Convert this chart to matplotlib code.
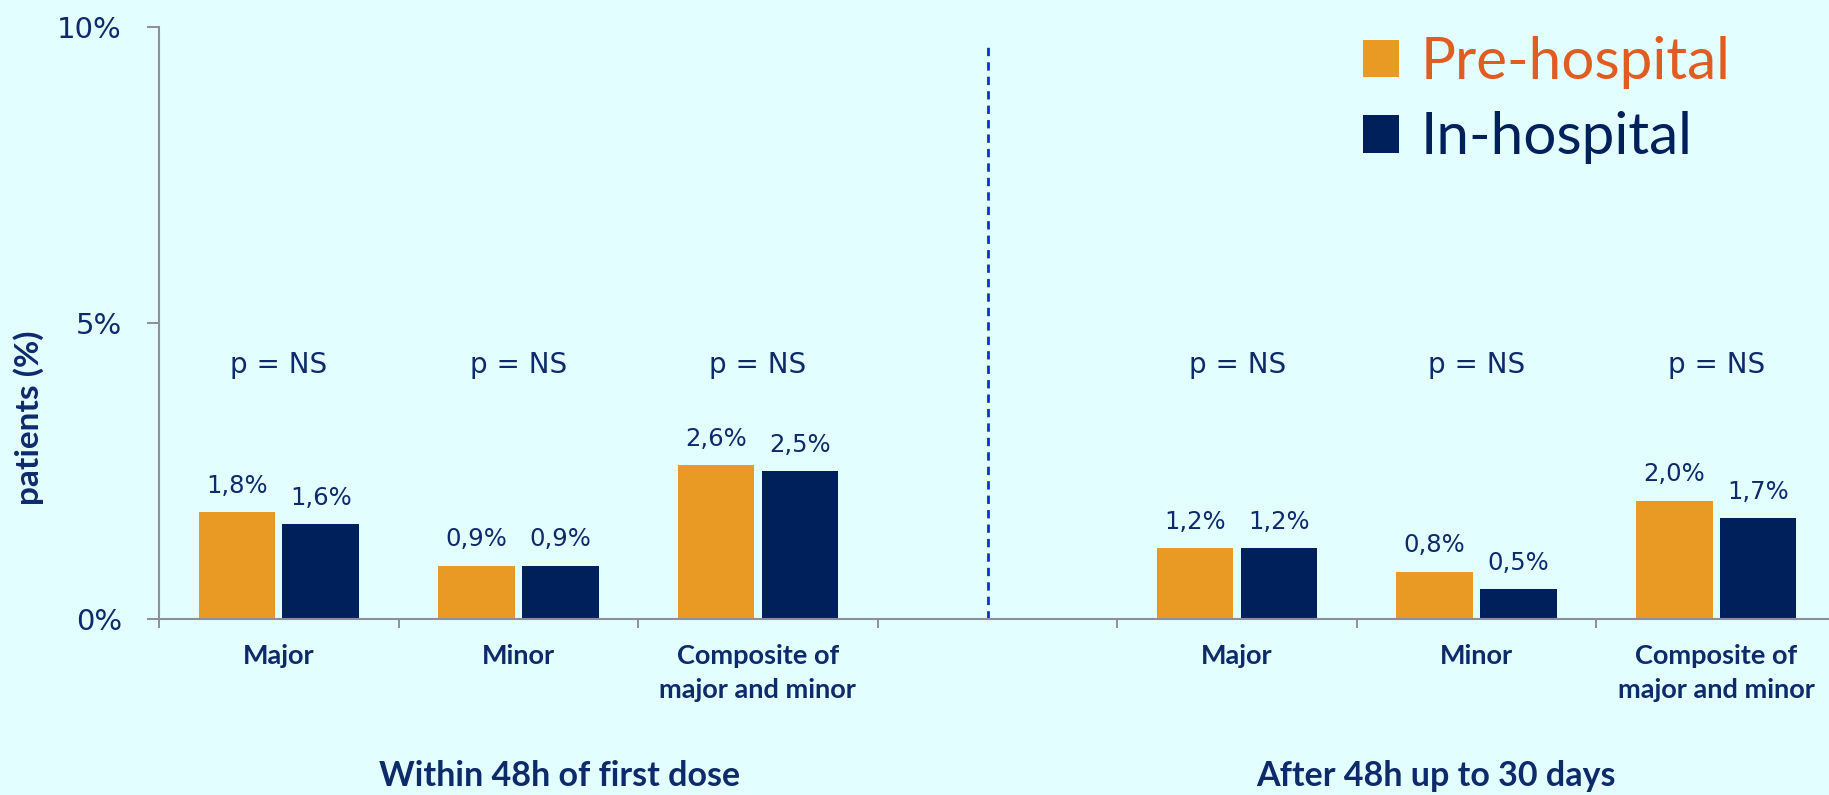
import numpy as np
import matplotlib
matplotlib.use("Agg")
import matplotlib.pyplot as plt

# ── Data ──
categories = ["Major", "Minor", "Composite of\nmajor and minor", "",
              "Major", "Minor", "Composite of\nmajor and minor"]
pre_hospital = [1.8, 0.9, 2.6, np.nan, 1.2, 0.8, 2.0]
in_hospital = [1.6, 0.9, 2.5, np.nan, 1.2, 0.5, 1.7]
pre_labels = ["1,8%", "0,9%", "2,6%", "", "1,2%", "0,8%", "2,0%"]
in_labels = ["1,6%", "0,9%", "2,5%", "", "1,2%", "0,5%", "1,7%"]
p_labels = ["p = NS", "p = NS", "p = NS", "", "p = NS", "p = NS", "p = NS"]
groups = ["Within 48h of first dose", "After 48h up to 30 days"]
group_x = [1.17, 4.83]
yticks = [0, 5, 10]
ytick_labels = ["0%", "5%", "10%"]
series_names = ["Pre-hospital", "In-hospital"]

BG = "#E3FEFF"
ORANGE = "#E89A25"
NAVY = "#00205B"
TXT = "#0D2A6B"
AXC = "#8E8E9E"

fig = plt.figure(figsize=(18.29, 7.95), dpi=100, facecolor=BG)
ax = fig.add_axes([159 / 1829, 1 - 619 / 795, 1677 / 1829, (619 - 27) / 795])
ax.set_facecolor(BG)

x = np.arange(len(categories))
w = 0.32
off = 0.175
b1 = ax.bar(x - off, pre_hospital, w, color=ORANGE, label=series_names[0])
b2 = ax.bar(x + off, in_hospital, w, color=NAVY, label=series_names[1])

for xi, v, s in zip(x - off, pre_hospital, pre_labels):
    if s:
        ax.annotate(s, (xi, v), xytext=(0, 14), textcoords="offset points",
                    ha="center", va="baseline", fontsize=17.5, color=TXT,
                    family="DejaVu Sans")
for xi, v, s in zip(x + off, in_hospital, in_labels):
    if s:
        ax.annotate(s, (xi, v), xytext=(0, 14), textcoords="offset points",
                    ha="center", va="baseline", fontsize=17.5, color=TXT,
                    family="DejaVu Sans")
for xi, s in zip(x, p_labels):
    if s:
        ax.text(xi, 4.29, s, ha="center", va="center", fontsize=20,
                color=TXT, family="DejaVu Sans")

# category + group labels
for xi, s in zip(x, categories):
    if s:
        ax.text(xi, -0.42, s, ha="center", va="top", fontsize=19.5,
                fontweight="bold", color=TXT, family="Lato",
                linespacing=1.5, clip_on=False)
for gx, g in zip(group_x, groups):
    ax.text(gx, -2.65, g, ha="center", va="center", fontsize=24.5,
            fontweight="bold", color=TXT, family="Lato", clip_on=False)

# divider between the two periods
ax.vlines(2.96, 0, 9.72, colors="#0A32D0", linestyles=(0, (3, 2.2)), lw=2)

ax.set_xlim(-0.5, 6.5)
ax.set_ylim(0, 10)
ax.set_xticks(np.arange(-0.5, 7, 1))
ax.set_xticklabels([])
ax.set_yticks(yticks)
ax.set_yticklabels(ytick_labels, fontsize=21, color=TXT, family="DejaVu Sans")
ax.tick_params(axis="y", length=8.6, width=1.4, color=AXC, pad=18)
ax.tick_params(axis="x", length=6.5, width=1.4, color=AXC)
for sp in ["top", "right"]:
    ax.spines[sp].set_visible(False)
for sp in ["left", "bottom"]:
    ax.spines[sp].set_color(AXC)
    ax.spines[sp].set_linewidth(1.5)

fig.text(29 / 1829, 1 - 418 / 795, "patients (%)", rotation=90, ha="center",
         va="center", fontsize=24, fontweight="bold", color=TXT, family="Lato")

leg = ax.legend(handles=[b1, b2], loc="upper left",
                bbox_to_anchor=(1363 / 1829, 1 - 36 / 795),
                bbox_transform=fig.transFigure, frameon=False,
                prop={"family": "Lato", "size": 42},
                handlelength=0.62, handleheight=0.62, handletextpad=0.36,
                labelspacing=0.38, borderpad=0, borderaxespad=0)
for t, c in zip(leg.get_texts(), ["#E05C20", NAVY]):
    t.set_color(c)

fig.savefig("out.png", dpi=100, facecolor=BG)
